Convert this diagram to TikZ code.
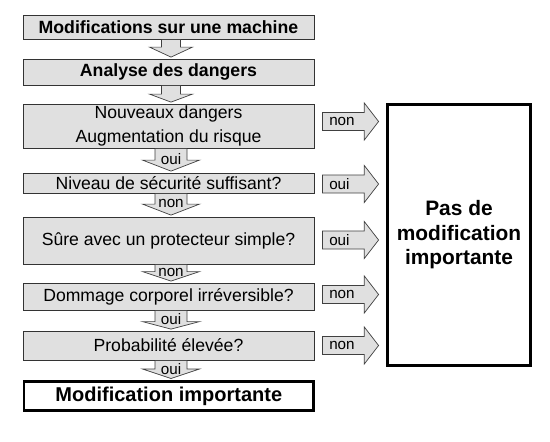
\documentclass[tikz,border=0pt]{standalone}
\usepackage{fontspec}
\setmainfont{Liberation Sans}
\usetikzlibrary{calc}
\definecolor{boxgray}{RGB}{224,224,224}
\tikzset{
  box/.style={draw=black!80, fill=boxgray, line width=0.8pt, minimum width=291pt, inner sep=0pt, align=center, font=\fontsize{17.6}{23.5}\selectfont},
  boldbox/.style={box, font=\fontsize{17.7}{21}\selectfont\bfseries},
  thickbox/.style={draw=black, fill=white, line width=2.8pt, inner sep=0pt, align=center},
  barrow/.style={draw=black!75, fill=boxgray, line width=0.7pt, line join=miter},
  lbl/.style={inner sep=0pt, font=\fontsize{15.2}{17}\selectfont},
}
% down block arrow: #1 label name, #2 src, #3 dst, #4 shaft half width, #5 head half width, #6 head length, #7 label
\newcommand\dnarr[7]{%
  \draw[barrow] let \p1=(#2.south), \p2=(#3.north) in
    (171pt-#4pt,\y1-0.4pt) -- (171pt-#4pt,\y2+1.5pt+#6pt) -- (171pt-#5pt,\y2+1.5pt+#6pt)
    -- (171pt,\y2+1.5pt) -- (171pt+#5pt,\y2+1.5pt+#6pt) -- (171pt+#4pt,\y2+1.5pt+#6pt)
    -- (171pt+#4pt,\y1-0.4pt)
    (171pt,{0.5*\y1+0.5*\y2+1.5pt}) node[lbl] (#1) {#7};
}
% right block arrow: #1 label name, #2 src, #3 dst, #4 centre y (px), #5 label
\newcommand\rtarr[5]{%
  \draw[barrow] let \p1=(#2.east), \p2=(#3.west) in
    (\x1+8pt,-#4pt+9pt) -- (\x2-21.8pt,-#4pt+9pt) -- (\x2-21.8pt,-#4pt+18.5pt)
    -- (\x2-7.5pt,-#4pt) -- (\x2-21.8pt,-#4pt-18.5pt) -- (\x2-21.8pt,-#4pt-9pt)
    -- (\x1+8pt,-#4pt-9pt) -- cycle
    (\x1+14.5pt,-#4pt) node[lbl,anchor=west] (#1) {#5};
}
\begin{document}
\begin{tikzpicture}[x=1pt,y=-1pt]
\useasboundingbox (0,0) rectangle (550,442);
\fill[white] (0,0) rectangle (550,442);

\node[boldbox, minimum height=24pt] (m1) at (168.5,27) {Modifications sur une machine};
\node[boldbox, minimum height=26pt] (m2) at (168.5,72) {Analyse des dangers};
\node[box, minimum height=44pt] (m3) at (168.5,126) {Nouveaux dangers\\Augmentation du risque};
\node[box, minimum height=20pt] (m4) at (168.5,183) {Niveau de sécurité suffisant?};
\node[box, minimum height=47pt] (m5) at (168.5,240.5) {Sûre avec un protecteur simple?};
\node[box, minimum height=27pt] (m6) at (168.5,296.5) {Dommage corporel irréversible?};
\node[box, minimum height=29pt] (m7) at (168.5,345.5) {Probabilité élevée?};
\node[thickbox, minimum width=289.5pt, minimum height=29.2pt, font=\fontsize{20}{24}\selectfont\bfseries] (m8) at (168.8,396) {Modification importante};
\node[thickbox, minimum width=143pt, minimum height=261pt, font=\fontsize{20.9}{24.5}\selectfont\bfseries] (big) at (459,235) {Pas de\\modification\\importante};

\dnarr{d1}{m1}{m2}{9.5}{21.5}{10}{}
\dnarr{d2}{m2}{m3}{9.5}{21.5}{8}{}
\dnarr{d3}{m3}{m4}{16}{28.5}{11}{oui}
\dnarr{d4}{m4}{m5}{16}{28.5}{11}{non}
\dnarr{d5}{m5}{m6}{16}{28.5}{9.5}{non}
\dnarr{d6}{m6}{m7}{16}{28.5}{7.5}{oui}
\dnarr{d7}{m7}{m8}{16}{28.5}{9.5}{oui}

\rtarr{r1}{m3}{big}{121.5}{non}
\rtarr{r2}{m4}{big}{184}{oui}
\rtarr{r3}{m5}{big}{240}{oui}
\rtarr{r4}{m6}{big}{294.5}{non}
\rtarr{r5}{m7}{big}{345.5}{non}
\end{tikzpicture}
\end{document}
